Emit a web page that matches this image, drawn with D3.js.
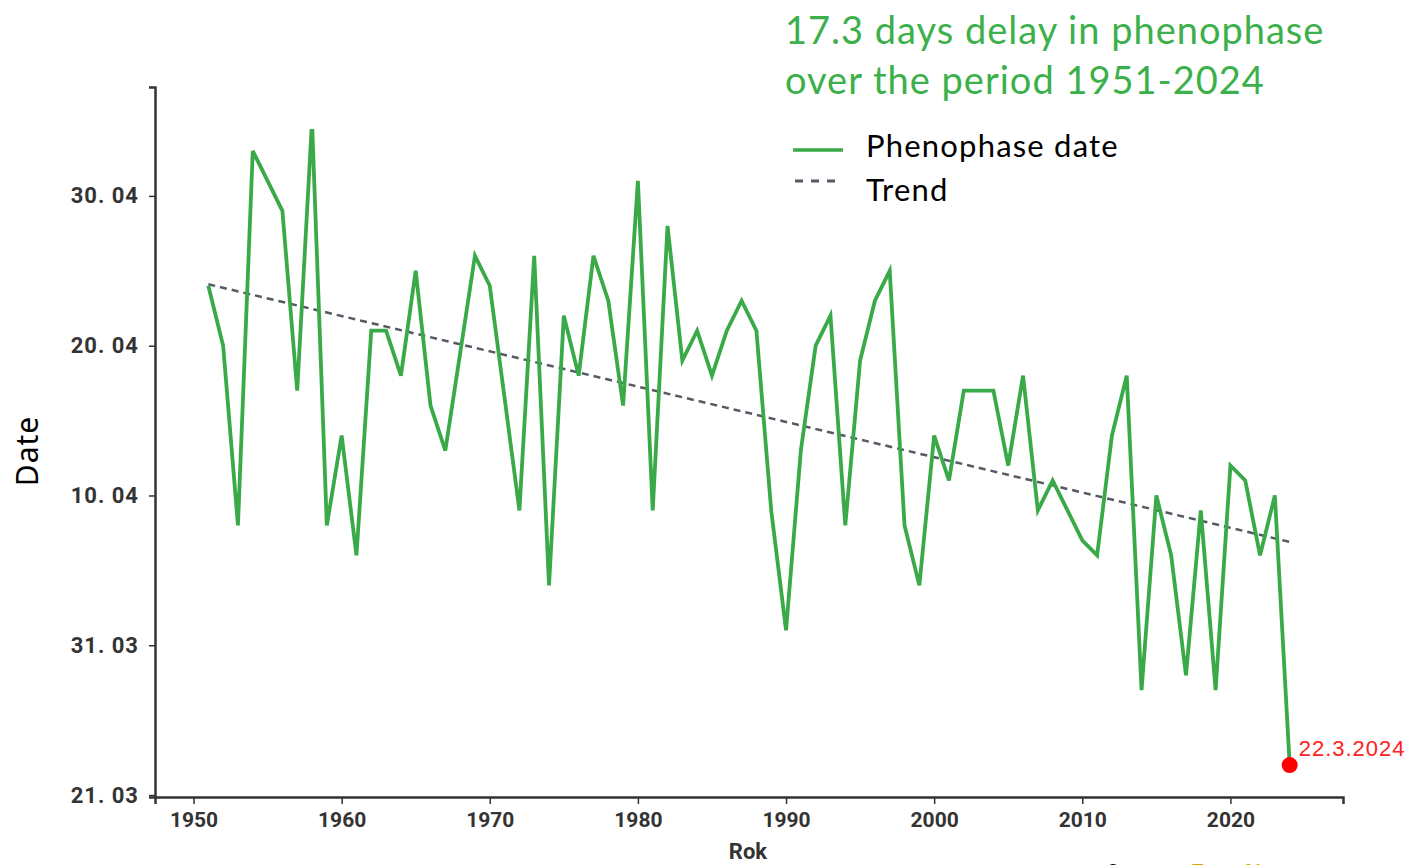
<!DOCTYPE html>
<html>
<head>
<meta charset="utf-8">
<script src="https://cdn.jsdelivr.net/npm/d3@7"></script>
<style>
  body { margin: 0; background: #fff; }
  svg { display: block; }
  .tick text { font-family: "Roboto", sans-serif; font-weight: bold; fill: #333; }
</style>
</head>
<body>
<svg id="chart" width="1408" height="865"></svg>
<script>
// rok (years) and phenophase date as day of year
var years = d3.range(1951, 2025)
var dayOfYear = [
    114, 110, 98, 123, 121, 119, 107, 125, 98, 104,
    96, 111, 111, 108, 115, 106, 103, 109.5, 116, 114,
    106.5, 99, 116, 94, 112, 108, 116, 113, 106, 121,
    99, 118, 109, 111, 108, 111, 113, 111, 99, 91,
    103, 110, 112, 98, 109, 113, 115, 98, 94, 104,
    101, 107, 107, 107, 102, 108, 99, 101, 99, 97,
    96, 104, 108, 87, 100, 96, 88, 99, 87, 102,
    101, 96, 100, 82
]
// trend line end points (1951, 2024)
var trendYears = [1951, 2024]
var trendDays = [114.1, 96.9]

var yTickDays = [80, 90, 100, 110, 120]
var yTickLabels = ['21. 03', '31. 03', '10. 04', '20. 04', '30. 04']
var xTickYears = [1950, 1960, 1970, 1980, 1990, 2000, 2010, 2020]

var lastLabel = '22.3.2024'
var titleLines = ['17.3 days delay in phenophase', 'over the period 1951-2024']

var green = '#3aaa48'

var svg = d3.select('#chart')

var x = d3.scaleLinear().domain([1947.4, 2027.6]).range([155, 1343])
var y = d3.scaleLinear().domain([79.87, 127.27]).range([797, 87])

// clip for plot area (peak of 1958 is cut in the original)
svg.append('clipPath').attr('id', 'plotClip')
    .append('rect')
    .attr('x', 155).attr('y', 129)
    .attr('width', 1200).attr('height', 670)

// axes
var xAxis = svg.append('g')
    .attr('transform', 'translate(0,797)')
    .call(d3.axisBottom(x).tickValues(xTickYears).tickFormat(d3.format('d')).tickSizeOuter(0).tickSize(7).tickPadding(8))
xAxis.select('.domain').attr('stroke', '#333').attr('stroke-width', 2.5)
xAxis.selectAll('.tick line').attr('stroke', '#333').attr('stroke-width', 1.5)
xAxis.selectAll('.tick text').attr('font-size', 21)

var yAxis = svg.append('g')
    .attr('transform', 'translate(155,0)')
    .call(d3.axisLeft(y).tickValues(yTickDays).tickFormat(function (d, i) {
        return yTickLabels[i]
    }).tickSizeOuter(0).tickSize(6).tickPadding(10))
yAxis.select('.domain').attr('stroke', '#333').attr('stroke-width', 2.5)
yAxis.selectAll('.tick line').attr('stroke', '#333').attr('stroke-width', 1.5)
yAxis.selectAll('.tick text').attr('font-size', 22).attr('letter-spacing', 1)

// axis titles
svg.append('text')
    .attr('x', 748).attr('y', 859)
    .attr('text-anchor', 'middle')
    .attr('font-family', 'Roboto, sans-serif')
    .attr('font-weight', 'bold')
    .attr('font-size', 22)
    .attr('fill', '#333')
    .text('Rok')

svg.append('text')
    .attr('transform', 'translate(38,451) rotate(-90)')
    .attr('text-anchor', 'middle')
    .attr('font-family', '"Noto Sans", sans-serif')
    .attr('font-size', 30)
    .attr('letter-spacing', 1)
    .attr('fill', '#000')
    .text('Date')

var plot = svg.append('g').attr('clip-path', 'url(#plotClip)')

// trend
plot.append('path')
    .datum(trendYears.map(function (d, i) { return [d, trendDays[i]] }))
    .attr('fill', 'none')
    .attr('stroke', '#555a63')
    .attr('stroke-width', 2.5)
    .attr('stroke-dasharray', '7,5')
    .attr('d', d3.line().x(function (d) { return x(d[0]) }).y(function (d) { return y(d[1]) }))

// phenophase line
plot.append('path')
    .datum(years.map(function (d, i) { return [d, dayOfYear[i]] }))
    .attr('fill', 'none')
    .attr('stroke', green)
    .attr('stroke-width', 3.8)
    .attr('stroke-linejoin', 'miter')
    .attr('d', d3.line().x(function (d) { return x(d[0]) }).y(function (d) { return y(d[1]) }))

// last point
var lastYear = years[years.length - 1]
var lastDay = dayOfYear[dayOfYear.length - 1]
svg.append('circle')
    .attr('cx', x(lastYear)).attr('cy', y(lastDay))
    .attr('r', 8)
    .attr('fill', '#ff0000')
svg.append('text')
    .attr('x', x(lastYear) + 9).attr('y', y(lastDay) - 9)
    .attr('font-family', '"Liberation Sans", Arial, sans-serif')
    .attr('font-size', 22)
    .attr('letter-spacing', 1)
    .attr('fill', '#ff2020')
    .text(lastLabel)

// title
svg.selectAll('.title')
    .data(titleLines)
    .enter()
    .append('text')
    .attr('class', 'title')
    .attr('x', 785)
    .attr('y', function (d, i) { return 44 + i * 50 })
    .attr('font-family', 'Lato, "Noto Sans", sans-serif')
    .attr('font-size', 38)
    .attr('letter-spacing', 1)
    .attr('fill', '#3cb04a')
    .text(function (d) { return d })

// legend
var legend = svg.append('g').attr('transform', 'translate(793,0)')
legend.append('line')
    .attr('x1', 0).attr('x2', 50).attr('y1', 150).attr('y2', 150)
    .attr('stroke', green).attr('stroke-width', 3.5)
legend.append('line')
    .attr('x1', 2).attr('x2', 50).attr('y1', 181).attr('y2', 181)
    .attr('stroke', '#555a63').attr('stroke-width', 3).attr('stroke-dasharray', '8,8')
legend.selectAll('.legendText')
    .data(['Phenophase date', 'Trend'])
    .enter()
    .append('text')
    .attr('class', 'legendText')
    .attr('x', 73)
    .attr('y', function (d, i) { return 157 + i * 44 })
    .attr('font-family', 'Lato, "Noto Sans", sans-serif')
    .attr('font-size', 31)
    .attr('letter-spacing', 1.2)
    .attr('fill', '#000')
    .text(function (d) { return d })

// source, cut at the bottom edge
var source = svg.append('text')
    .attr('x', 1106).attr('y', 881)
    .attr('font-family', 'Lato, "Noto Sans", sans-serif')
    .attr('font-size', 24)
source.append('tspan').attr('fill', '#000').text('Source: ')
source.append('tspan').attr('fill', '#d9a400').text('Fenofáze')
</script>
</body>
</html>
